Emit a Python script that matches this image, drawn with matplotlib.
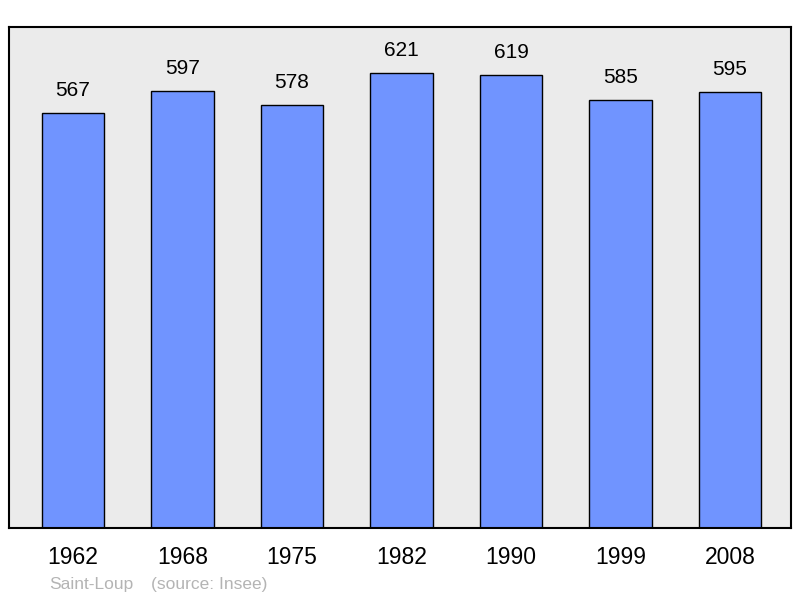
import matplotlib.pyplot as plt

# Données
years = ["1962", "1968", "1975", "1982", "1990", "1999", "2008"]
population = [567, 597, 578, 621, 619, 585, 595]
commune = "Saint-Loup"
source = "(source: Insee)"

plt.rcParams['font.family'] = ['Liberation Sans', 'DejaVu Sans']

fig = plt.figure(figsize=(8, 5.98), dpi=100)
ax = fig.add_axes([9 / 800, 70 / 598, 782 / 800, 501 / 598])
ax.set_facecolor("#ebebeb")

x = list(range(len(years)))
bars = ax.bar(x, population, width=0.57, color="#7094ff", edgecolor="black", linewidth=1.0)

for xi, val in zip(x, population):
    ax.annotate(str(val), (xi, val), xytext=(0, 16), textcoords="offset points",
                ha="center", va="center", fontsize=15)

ax.set_xlim(-0.584, 6.557)
ax.set_ylim(0, 684)
ax.set_yticks([])
ax.set_xticks(x)
ax.set_xticklabels(years, fontsize=16.5)
ax.tick_params(axis="x", length=0, pad=13)
for s in ax.spines.values():
    s.set_linewidth(1.5)
    s.set_color("black")

fig.text(49 / 800, 1 - 584 / 598, commune, fontsize=12.5, color="#b4b4b4", va="center")
fig.text(151 / 800, 1 - 584 / 598, source, fontsize=12.5, color="#b4b4b4", va="center")

plt.savefig("out.png", dpi=100)
